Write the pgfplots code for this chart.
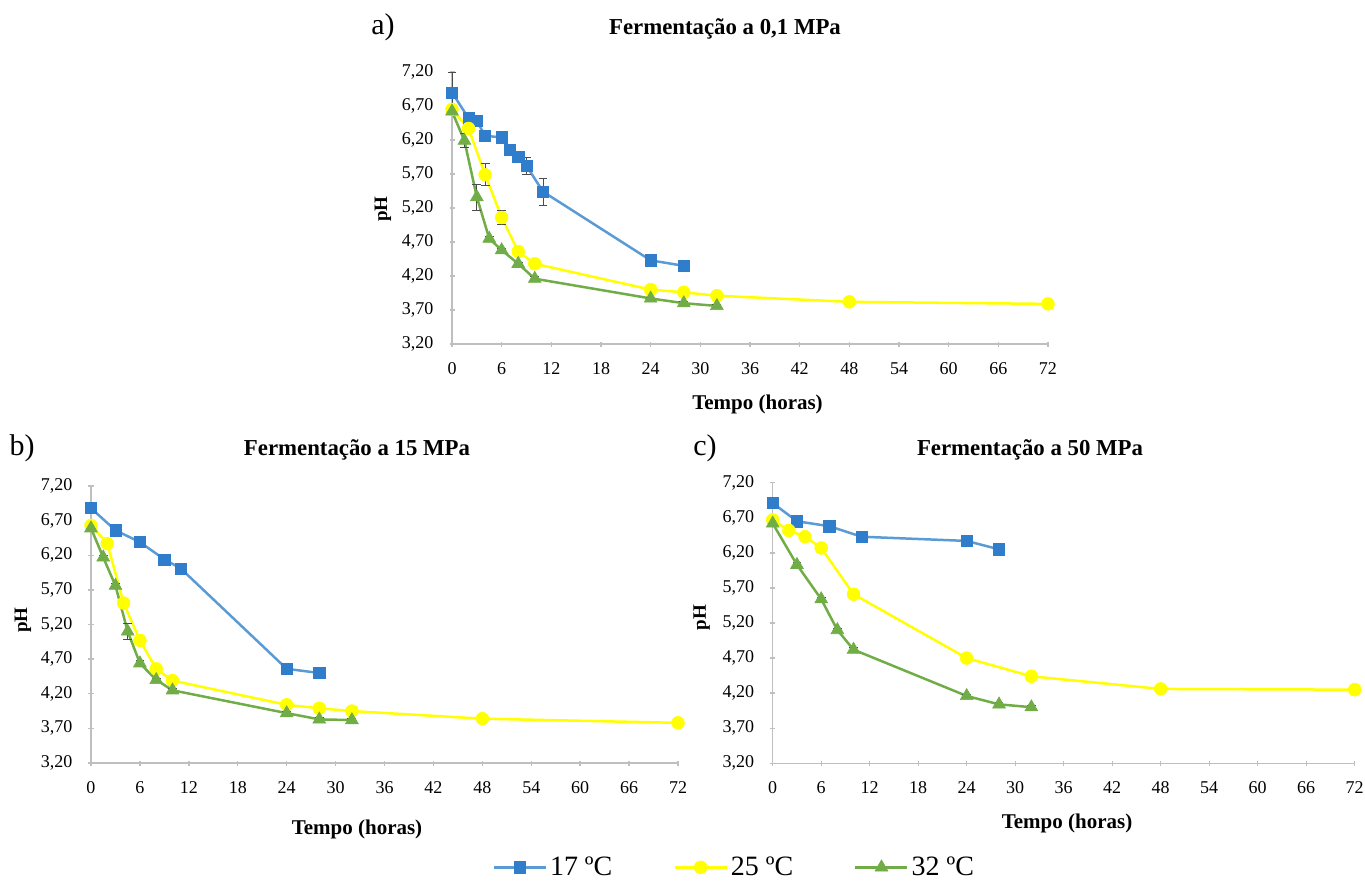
\documentclass[border=0pt]{standalone}
\usepackage{fontspec}
\setmainfont{Liberation Serif}
\usepackage{pgfplots}
\pgfplotsset{compat=1.18}
\definecolor{cblue}{RGB}{91,155,213}
\definecolor{cbluem}{RGB}{47,125,203}
\definecolor{cyel}{RGB}{255,255,0}
\definecolor{cgreen}{RGB}{112,173,71}
\definecolor{axgray}{RGB}{191,191,191}
\pgfplotsset{
  phaxis/.style={
    scale only axis, clip=false,
    axis lines=left,
    axis line style={-, draw=axgray, line width=0.7pt},
    xmin=0, xmax=72, ymin=3.2, ymax=7.2,
    xtick={0,6,...,72},
    ytick={3.2,3.7,4.2,4.7,5.2,5.7,6.2,6.7,7.2},
    tick style={draw=axgray, line width=0.7pt},
    major tick length=2.5pt,
    tick label style={font=\fontsize{9}{10}\selectfont, /pgf/number format/assume math mode=true},
    yticklabel style={/pgf/number format/fixed, /pgf/number format/fixed zerofill,
      /pgf/number format/precision=2, /pgf/number format/use comma, xshift=-4.5pt},
    xticklabel style={yshift=-4.5pt},
  },
  s17/.style={color=cblue, line width=1.25pt, mark=square*, mark size=2.8pt,
    mark options={fill=cbluem, draw=cbluem, line width=0.3pt}},
  s25/.style={color=cyel, line width=1.25pt, mark=*, mark size=3.2pt,
    mark options={fill=cyel, draw=cyel, line width=0.3pt}},
  s32/.style={color=cgreen, line width=1.25pt, mark=triangle*, mark size=3.7pt,
    mark options={fill=cgreen, draw=cgreen, line width=0.3pt}},
  eb/.style={error bars/.cd, y dir=both, y explicit,
    error bar style={draw=black!70, line width=0.5pt},
    error mark options={rotate=90, mark size=2.2pt, draw=black!70, line width=0.5pt}},
}
\begin{document}
\begin{tikzpicture}
\path[use as bounding box] (0,0) rectangle (682.5pt,-440.5pt);

% ---------- panel a ----------
\begin{axis}[phaxis, at={(226pt,-172pt)}, anchor=south west, width=298pt, height=136pt,
  legend columns=3,
  legend style={draw=none, fill=none, at={(0.4745,-1.924)}, anchor=center,
    font=\fontsize{14}{16}\selectfont,
    nodes={inner xsep=1.5pt, inner ysep=0pt},
    /tikz/every even column/.append style={column sep=29pt}},
  legend image code/.code={\draw[mark repeat=2, mark phase=2] plot coordinates {(0pt,0pt) (13pt,0pt) (26pt,0pt)};},
]
\addplot[s17, eb] coordinates {
 (0,6.90) +- (0,0.30) (2,6.52) +- (0,0.03) (3,6.48) +- (0,0.03) (4,6.26) +- (0,0.03)
 (6,6.24) +- (0,0.03) (7,6.06) +- (0,0.03) (8,5.95) +- (0,0.05) (9,5.82) +- (0,0.13)
 (11,5.44) +- (0,0.20) (24,4.43) +- (0,0.02) (28,4.35) +- (0,0.02)};
\addlegendentry{17 ºC}
\addplot[s25, eb] coordinates {
 (0,6.65) +- (0,0.03) (2,6.37) +- (0,0.03) (4,5.69) +- (0,0.16) (6,5.06) +- (0,0.10)
 (8,4.56) +- (0,0.03) (10,4.38) +- (0,0.02) (24,4.00) +- (0,0.02) (28,3.96) +- (0,0.02)
 (32,3.91) +- (0,0.02) (48,3.82) +- (0,0.02) (72,3.79) +- (0,0.02)};
\addlegendentry{25 ºC}
\addplot[s32, eb] coordinates {
 (0,6.62) +- (0,0.03) (1.5,6.19) +- (0,0.10) (3,5.36) +- (0,0.19) (4.5,4.75) +- (0,0.03)
 (6,4.58) +- (0,0.03) (8,4.38) +- (0,0.02) (10,4.16) +- (0,0.03) (24,3.87) +- (0,0.02)
 (28,3.80) +- (0,0.02) (32,3.76) +- (0,0.02)};
\addlegendentry{32 ºC}
\end{axis}

% ---------- panel b ----------
\begin{axis}[phaxis, at={(45.5pt,-381.5pt)}, anchor=south west, width=293.5pt, height=138.5pt]
\addplot[s17] coordinates {
 (0,6.88) (3,6.56) (6,6.39) (9,6.14) (11,6.01) (24,4.56) (28,4.50)};
\addplot[s25, eb] coordinates {
 (0,6.63) +- (0,0.02) (2,6.37) +- (0,0.02) (4,5.51) +- (0,0.04) (6,4.97) +- (0,0.03)
 (8,4.56) +- (0,0.02) (10,4.39) +- (0,0.02) (24,4.04) +- (0,0.02) (28,3.99) +- (0,0.02)
 (32,3.95) +- (0,0.02) (48,3.84) +- (0,0.02) (72,3.78) +- (0,0.02)};
\addplot[s32, eb] coordinates {
 (0,6.59) +- (0,0.02) (1.5,6.17) +- (0,0.03) (3,5.76) +- (0,0.03) (4.5,5.10) +- (0,0.12)
 (6,4.64) +- (0,0.04) (8,4.40) +- (0,0.02) (10,4.25) +- (0,0.02) (24,3.92) +- (0,0.02)
 (28,3.83) +- (0,0.02) (32,3.82) +- (0,0.02)};
\end{axis}

% ---------- panel c ----------
\begin{axis}[phaxis, at={(386.35pt,-381.65pt)}, anchor=south west, width=291pt, height=140.3pt]
\addplot[s17] coordinates {
 (0,6.91) (3,6.65) (7,6.58) (11,6.43) (24,6.37) (28,6.25)};
\addplot[s25] coordinates {
 (0,6.67) (2,6.52) (4,6.43) (6,6.27) (10,5.61) (24,4.70) (32,4.44) (48,4.26) (72,4.25)};
\addplot[s32, eb] coordinates {
 (0,6.62) +- (0,0.02) (3,6.03) +- (0,0.03) (6,5.54) +- (0,0.02) (8,5.10) +- (0,0.02)
 (10,4.82) +- (0,0.03) (24,4.16) +- (0,0.02) (28,4.04) +- (0,0.02) (32,4.00) +- (0,0.02)};
\end{axis}

% ---------- titles and labels ----------
\node[anchor=base, font=\fontsize{15}{17}\selectfont] at (191.5pt,-17.25pt) {a)};
\node[anchor=base, font=\bfseries\fontsize{11.4}{13}\selectfont] at (362.5pt,-17.25pt) {Fermentação a 0,1 MPa};
\node[anchor=base, font=\fontsize{15}{17}\selectfont] at (11pt,-228pt) {b)};
\node[anchor=base, font=\bfseries\fontsize{11.4}{13}\selectfont] at (178.5pt,-228pt) {Fermentação a 15 MPa};
\node[anchor=base, font=\fontsize{15}{17}\selectfont] at (352.5pt,-228pt) {c)};
\node[anchor=base, font=\bfseries\fontsize{11.4}{13}\selectfont] at (515pt,-228pt) {Fermentação a 50 MPa};

\node[anchor=base, font=\bfseries\fontsize{10.5}{12}\selectfont] at (378.75pt,-205pt) {Tempo (horas)};
\node[anchor=base, font=\bfseries\fontsize{10.5}{12}\selectfont] at (178.5pt,-417pt) {Tempo (horas)};
\node[anchor=base, font=\bfseries\fontsize{10.5}{12}\selectfont] at (533.5pt,-414pt) {Tempo (horas)};

\node[rotate=90, font=\bfseries\fontsize{9.5}{11}\selectfont] at (191.5pt,-104.5pt) {pH};
\node[rotate=90, font=\bfseries\fontsize{9.5}{11}\selectfont] at (11.5pt,-310pt) {pH};
\node[rotate=90, font=\bfseries\fontsize{9.5}{11}\selectfont] at (350.85pt,-308.8pt) {pH};
\end{tikzpicture}
\end{document}
